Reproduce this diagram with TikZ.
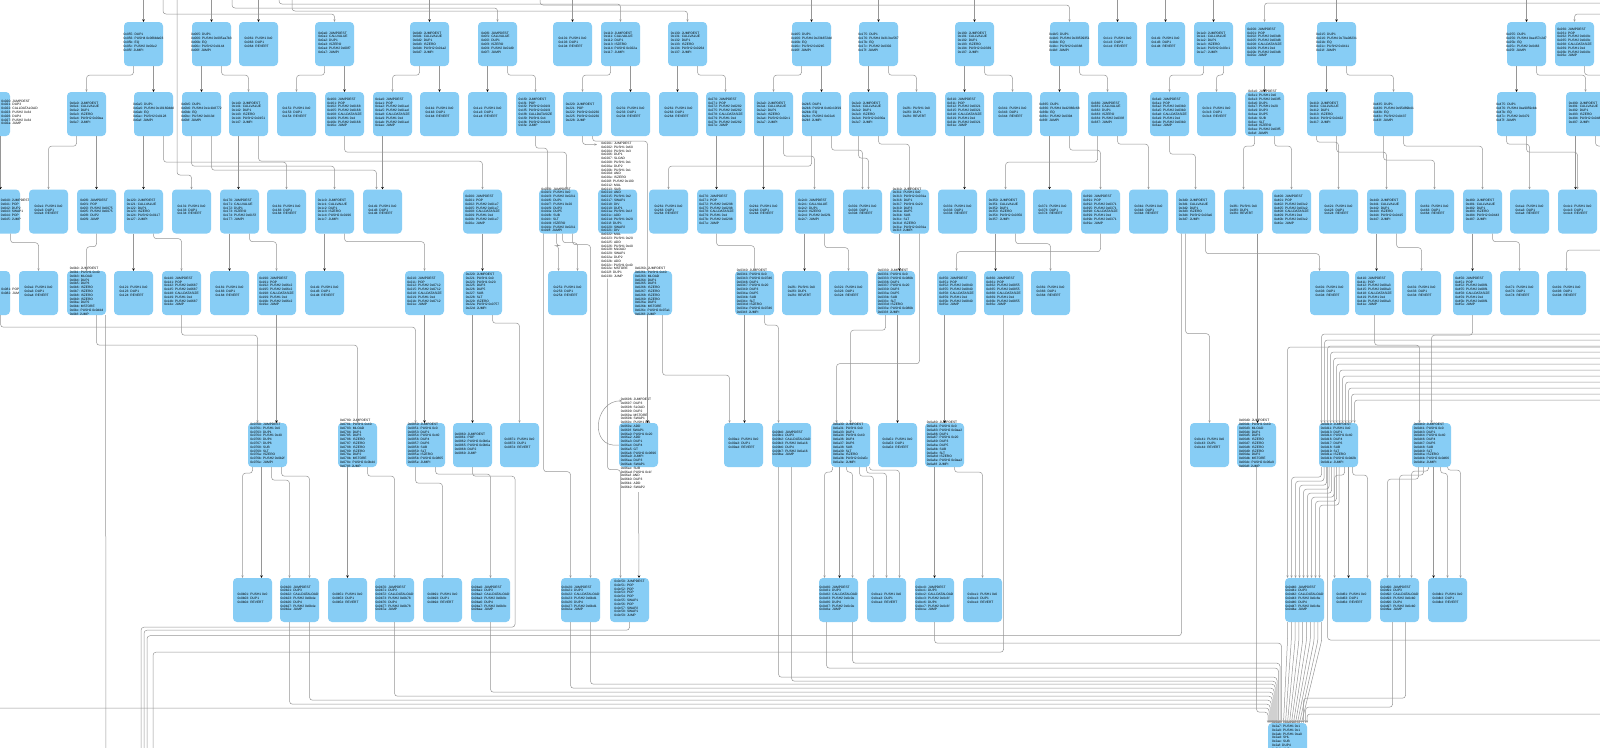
\documentclass[tikz,border=0pt]{standalone}
\usepackage{fontspec}
\setmainfont{Liberation Sans}
\usepackage{xcolor}
\usepackage{tikz}
\usetikzlibrary{arrows.meta}

\definecolor{blockblue}{RGB}{135,205,245}
\definecolor{linegray}{RGB}{150,150,150}

\newcommand{\ops}[1]{\smash{\makebox[0pt]{\begin{tabular}{@{}l@{}}#1\end{tabular}}}}
\newcommand{\opsl}[2]{\smash{\makebox[0pt][l]{\hspace{#1pt}\begin{tabular}{@{}l@{}}#2\end{tabular}}}}
\newcommand{\rv}[1]{\ops{0x#11: PUSH1 0x0\\0x#13: DUP1\\0x#14: REVERT}}
\newcommand{\dsp}[3]{\ops{0x#15: DUP1\\0x#16: PUSH4 0x#2\\0x#1b: EQ\\0x#1c: PUSH2 0x#3\\0x#1f: JUMPI}}
\newcommand{\cvl}[2]{\ops{0x#10: JUMPDEST\\0x#11: CALLVALUE\\0x#12: DUP1\\0x#13: ISZERO\\0x#14: PUSH2 0x#2\\0x#17: JUMPI}}
\newcommand{\cdl}[2]{\ops{0x#10: JUMPDEST\\0x#11: POP\\0x#12: PUSH2 0x#2\\0x#15: PUSH2 0x#2\\0x#18: CALLDATASIZE\\0x#19: PUSH1 0x4\\0x#1b: PUSH2 0x#2\\0x#1e: JUMP}}
\newcommand{\pjp}[2]{\ops{0x#10: JUMPDEST\\0x#11: POP\\0x#12: PUSH2 0x#2\\0x#15: PUSH2 0x#2\\0x#18: JUMP}}
\newcommand{\pdj}[2]{\ops{0x#10: JUMPDEST\\0x#11: POP\\0x#12: PUSH2 0x#2\\0x#15: PUSH2 0x#2\\0x#18: DUP2\\0x#19: JUMP}}
\newcommand{\ldc}[2]{\ops{0x#10: JUMPDEST\\0x#11: DUP3\\0x#12: CALLDATALOAD\\0x#13: PUSH2 0x#2\\0x#16: DUP4\\0x#17: PUSH2 0x#2\\0x#1a: JUMP}}
\newcommand{\chs}[2]{\ops{0x#10: JUMPDEST\\0x#11: PUSH1 0x0\\0x#13: PUSH1 0x20\\0x#15: DUP3\\0x#16: DUP5\\0x#17: SUB\\0x#18: SLT\\0x#19: ISZERO\\0x#1a: PUSH2 0x#2\\0x#1d: JUMPI}}
\newcommand{\chk}[2]{\ops{0x#10: JUMPDEST\\0x#11: PUSH1 0x0\\0x#13: DUP1\\0x#14: PUSH1 0x40\\0x#16: DUP4\\0x#17: DUP6\\0x#18: SUB\\0x#19: SLT\\0x#1a: ISZERO\\0x#1b: PUSH2 0x#2\\0x#1e: JUMPI}}
\newcommand{\chl}[2]{\ops{0x#10: JUMPDEST\\0x#11: PUSH1 0x0\\0x#13: PUSH2 0x#2\\0x#16: DUP1\\0x#17: PUSH1 0x20\\0x#19: DUP3\\0x#1a: DUP5\\0x#1b: SUB\\0x#1c: SLT\\0x#1d: ISZERO\\0x#1e: PUSH2 0x#2\\0x#1f: JUMPI}}
\newcommand{\mlk}[2]{\ops{0x#10: JUMPDEST\\0x#11: PUSH1 0x40\\0x#13: MLOAD\\0x#14: DUP1\\0x#15: DUP3\\0x#16: ISZERO\\0x#17: ISZERO\\0x#18: ISZERO\\0x#19: ISZERO\\0x#1a: DUP2\\0x#1b: MSTORE\\0x#1c: PUSH2 0x#2\\0x#1f: JUMP}}
\newcommand{\rtn}[1]{\ops{0x#10: JUMPDEST\\0x#11: POP\\0x#12: POP\\0x#13: POP\\0x#14: POP\\0x#15: SWAP1\\0x#16: POP\\0x#17: SWAP2\\0x#18: SWAP1\\0x#19: JUMP}}
\newcommand{\lngc}{\ops{0x0201: JUMPDEST\\0x0202: PUSH1 0x60\\0x0204: PUSH1 0x3\\0x0206: DUP1\\0x0207: SLOAD\\0x0208: PUSH1 0x1\\0x020a: DUP2\\0x020b: PUSH1 0x1\\0x020d: AND\\0x020e: ISZERO\\0x020f: PUSH2 0x100\\0x0212: MUL\\0x0213: SUB\\0x0214: AND\\0x0215: PUSH1 0x2\\0x0217: SWAP1\\0x0218: DIV\\0x0219: DUP1\\0x021a: PUSH1 0x1f\\0x021c: ADD\\0x021d: PUSH1 0x20\\0x021f: DUP1\\0x0220: SWAP2\\0x0221: DIV\\0x0222: MUL\\0x0223: PUSH1 0x20\\0x0225: ADD\\0x0226: PUSH1 0x40\\0x0228: MLOAD\\0x0229: SWAP1\\0x022a: DUP2\\0x022b: ADD\\0x022c: PUSH1 0x40\\0x022e: MSTORE\\0x022f: DUP1\\0x0230: JUMP}}
\newcommand{\lpe}{\ops{0x0696: JUMPDEST\\0x0697: DUP3\\0x0698: SLOAD\\0x0699: DUP2\\0x069a: MSTORE\\0x069b: SWAP1\\0x069c: PUSH1 0x1\\0x069e: ADD\\0x069f: SWAP1\\0x06a0: PUSH1 0x20\\0x06a2: ADD\\0x06a3: DUP1\\0x06a4: DUP4\\0x06a5: GT\\0x06a6: PUSH2 0x0696\\0x06a9: JUMPI\\0x06aa: DUP3\\0x06ab: SWAP1\\0x06ac: SUB\\0x06ad: PUSH1 0x1f\\0x06af: AND\\0x06b0: DUP3\\0x06b1: ADD\\0x06b2: SWAP2}}

\begin{document}
\begin{tikzpicture}[
  x=1pt, y=-1pt,
  blk/.style={rectangle, rounded corners=4pt, fill=blockblue, minimum width=39pt, minimum height=44pt, inner sep=0pt, font=\fontsize{3.25}{3.8}\selectfont},
  flow/.style={draw=linegray, line width=0.5pt, rounded corners=3pt, -{Stealth[length=2.4pt,width=2.2pt]}},
  flowd/.style={flow, -{Stealth[length=2.4pt,width=2.6pt,color=black]}}
]
  \path[use as bounding box, fill=white] (0,0) rectangle (1600,747);

  \foreach \n/\x/\t in {1/124/\dsp{05}{06fdde03}{00e2}, 2/192/\dsp{06}{095ea7b3}{0144}, 3/239/\rv{06}, 4/315/\cvl{0a}{00f7}, 5/410/\cvl{0d}{01a2}, 6/478/\cvl{0f}{01d9}, 7/553/\rv{10}, 8/601/\cvl{11}{022a}, 9/668/\cvl{13}{0264}, 10/792/\dsp{16}{23b872dd}{02b5}, 11/859/\dsp{17}{313ce567}{0302}, 12/955/\cvl{19}{0339}, 13/1050/\dsp{1b}{39509351}{0388}, 14/1098/\rv{1c}, 15/1146/\rv{1d}, 16/1194/\cvl{1e}{03c1}, 17/1245/\cdl{20}{03d8}, 18/1317/\dsp{21}{70a08231}{0411}, 19/1507/\dsp{25}{a457c2d7}{0463}, 20/1555/\cdl{26}{049c}}
    \node[blk] (a\n) at (\x+19.5,44) {\t};

  \foreach \n/\x/\t in {1/-29/\opsl{11}{0x020: JUMPDEST\\0x021: DUP3\\0x022: CALLDATALOAD\\0x023: PUSH2 0x34\\0x026: DUP4\\0x027: PUSH2 0x34\\0x02a: JUMP}, 2/67/\cvl{0e}{00ea}, 3/134/\dsp{0a}{18160ddd}{0128}, 4/182/\dsp{0b}{1c1b8772}{013d}, 5/229/\cvl{14}{0151}, 6/277/\rv{15}, 7/325/\cdl{16}{0168}, 8/373/\cdl{1a}{01ad}, 9/420/\rv{1b}, 10/468/\rv{1e}, 11/516/\cdl{1f}{01f4}, 12/563/\pjp{22}{0230}, 13/611/\rv{23}, 14/659/\rv{26}, 15/706/\cdl{27}{0282}, 16/754/\cvl{2a}{02c1}, 17/802/\dsp{2b}{40c10f19}{02e6}, 18/849/\cvl{2e}{030a}, 19/897/\rv{2f}, 20/945/\cdl{31}{0321}, 21/993/\rv{34}, 22/1040/\dsp{36}{42966c68}{0394}, 23/1088/\cvl{38}{039f}, 24/1150/\cdl{3a}{03b0}, 25/1197/\rv{3c}, 26/1245/\chl{3e}{03f5}, 27/1307/\cvl{41}{0422}, 28/1374/\dsp{43}{95d89b41}{0437}, 29/1497/\dsp{47}{a9059cbb}{0479}, 30/1566/\cvl{49}{0486}}
    \node[blk] (b\n) at (\x+19.5,114) {\t};

  \foreach \n/\x/\t in {1/-19/\opsl{0.5}{0x040: JUMPDEST\\0x041: POP\\0x042: DUP2\\0x043: SWAP1\\0x044: POP\\0x045: JUMP}, 2/29/\rv{0e}, 3/77/\pdj{0f}{0075}, 4/124/\cvl{12}{0117}, 5/172/\rv{13}, 6/220/\cvl{17}{015f}, 7/267/\rv{18}, 8/315/\cvl{1c}{0196}, 9/363/\rv{1d}, 10/463/\cdl{20}{01e7}, 11/539/\chl{01f}{0211}, 12/598/\lngc, 13/649/\rv{26}, 14/697/\cdl{27}{0298}, 15/744/\rv{2b}, 16/795/\cvl{2c}{02f1}, 17/843/\rv{30}, 18/890/\chl{31}{031a}, 19/938/\rv{33}, 20/986/\cvl{35}{0350}, 21/1033/\rv{37}, 22/1081/\cdl{39}{0371}, 23/1129/\rv{3b}, 24/1176/\cvl{3d}{03a6}, 25/1224/\rv{3f}, 26/1272/\cdl{40}{03e2}, 27/1319/\rv{42}, 28/1367/\cvl{44}{0415}, 29/1415/\rv{46}, 30/1463/\cvl{48}{0443}, 31/1510/\rv{4a}, 32/1558/\rv{4c}}
    \node[blk] (c\n) at (\x+19.5,211.5) {\t};

  \foreach \n/\x/\t in {1/-29/\opsl{11}{0x081: POP\\0x082: JUMP}, 2/19/\rv{0a}, 3/67/\mlk{0b}{0d4d}, 4/114/\rv{12}, 5/162/\cdl{14}{0687}, 6/210/\rv{18}, 7/257/\cdl{19}{06c2}, 8/305/\rv{1d}, 9/405/\cdl{21}{0712}, 10/463/\chs{22}{0757}, 11/548/\rv{25}, 12/633/\mlk{026}{07a1}, 13/735/\chl{034}{07d6}, 14/782/\rv{2f}, 15/829/\rv{32}, 16/876/\chl{033}{080b}, 17/937/\cdl{35}{0840}, 18/984/\cdl{36}{0855}, 19/1031/\rv{38}, 20/1310/\rv{40}, 21/1355/\cdl{41}{08a3}, 22/1402/\rv{43}, 23/1453/\cdl{45}{08f1}, 24/1500/\rv{47}, 25/1547/\rv{49}}
    \node[blk] (d\n) at (\x+19.5,293) {\t};

  \foreach \n/\x/\t in {1/248/\chk{076}{0b2f}, 2/338/\mlk{078}{0b44}, 3/406/\chk{085}{0865}, 4/453/\pdj{086}{0b6a}, 5/500/\rv{087}, 6/619/\lpe, 7/724/\rv{09a}, 8/772/\ldc{09b}{0a16}, 9/831/\chk{0a3}{0a5c}, 10/878/\rv{0a5}, 11/925/\chl{0a8}{0aa2}, 12/1190/\rv{0c4}, 13/1237/\mlk{06d}{06e9}, 14/1319/\chk{0d1}{0d2b}, 15/1412/\chk{0d4}{0d66}}
    \node[blk] (e\n) at (\x+19.5,445) {\t};

  \foreach \n/\x/\t in {1/233/\rv{0b0}, 2/280/\ldc{0b2}{0b4e}, 3/328/\rv{0b5}, 4/375/\ldc{0b7}{0b78}, 5/423/\rv{0b9}, 6/471/\ldc{0ba}{0b9c}, 7/561/\ldc{0c2}{0bd1}, 8/610/\rtn{0c5}, 9/819/\ldc{0c8}{0c0e}, 10/867/\rv{0ca}, 11/915/\ldc{0cc}{0c3f}, 12/963/\rv{0ce}, 13/1285/\ldc{0d4}{0c8e}, 14/1332/\rv{0d6}, 15/1380/\ldc{0d9}{0cb0}, 16/1428/\rv{0db}}
    \node[blk] (f\n) at (\x+19.5,600) {\t};

  \node[blk] (g) at (1287.5,745) {\ops{0x2a6: JUMPDEST\\0x2a7: PUSH1 0x1\\0x2a9: PUSH1 0x1\\0x2ab: PUSH1 0xa0\\0x2ad: SHL\\0x2ae: SUB\\0x2af: DUP4\\0x2b0: AND\\0x2b1: PUSH2 0x2ef\\0x2b4: JUMPI\\0x2b5: PUSH1 0x40\\0x2b7: MLOAD}};

  \coordinate (tr1) at (1605,3);
  \coordinate (tr2) at (1605,75);
  \coordinate (tr3) at (1605,146);
  \coordinate (tr4) at (1605,250);
  \coordinate (tr5) at (1605,14);
  \coordinate (top177) at (177,-2);
  \coordinate (or1) at (1605,640);
  \coordinate (rb1) at (1605,714);
  \coordinate (rfx) at (1605,347);
  \coordinate (ol1) at (-5,708);
  \coordinate (ob1) at (141,760);
  \coordinate (ob2) at (144,760);
  \coordinate (ob3) at (147,760);
  \coordinate (ob4) at (153,760);
  \coordinate (ob5) at (106,760);

  \foreach \x/\t in {143.5/a1, 211.5/a2, 258.5/a3, 429.5/a5, 572.5/a7, 811.5/a10, 878.5/a11, 974.5/a12, 1117.5/a14, 1165.5/a15, 1213.5/a16, 1336.5/a18, 1526.5/a19} {
    \coordinate (top\t) at (\x,-2);
    \draw[flowd] (top\t) -- (\t);
  }
  \foreach \x/\l/\t in {163/16/a4, 232/10/a6, 279/6/a8, 292/13/a9, 540/7/a13} {
    \coordinate (top\t) at (\x,-2);
    \draw[flow] (top\t) -- ++(0,\l) -| (\t);
  }
  \draw[flow] (tr1) -| (a17);
  \draw[flow] (tr5) -| (a20);
  \draw[flow] (top177) -- ++(0,177) -| (c5);

  \foreach \s/\a/\t/\b in {a1/10/b3/0, a2/-10/b4/0, a4/10/b7/0, a5/10/b9/0, a6/-10/b10/0, a8/10/b13/0, a9/-10/b14/-1, a10/10/b17/0, a11/-10/b18/0, a12/-10/b20/0, a13/-10/b22/0, a17/0/b26/0, a18/-10/b27/0, a19/-10/b29/0, b1/10/c1/0, b2/10/c3/0, b3/-10/c4/0, b5/-10/c6/-1, b8/-10/c9/0, b15/-9/c14/0, b16/-10/c15/0, b20/0/c19/7, b22/-10/c21/-3, b30/-10/c32/-2, c1/-10/d1/0, c4/-10/d4/0, c6/-10/d6/0, c8/-10/d8/0, c10/0/d10/0, c16/-10/d14/3, c18/-10/d16/4, c20/-10/d18/-8, c26/-34/e13/1, c28/-10/d21/2, c30/-10/d23/0, d7/0/e1/9, d9/0/e3/-1, d10/-10/e4/0, d12/-5/e6/9, d13/-10/e7/1, d16/2/e10/0, d17/-12/e11/0, e1/-6/f1/9, e2/-10/f3/0, e9/-11/f9/1, e11/-10/f11/0, e14/10/f14/-3, e15/2/f16/-14}
    \draw[flowd] ([xshift=\a]\s.south) -- ([xshift=\b]\t.north);

  \foreach \s/\a/\d/\t/\b in {a1/-10/9/b2/0, a2/10/9/b5/0, a4/-10/9/b6/0, a5/-10/9/b8/0, a6/10/9/b11/0, a8/-10/9/b12/0, a9/10/9/b15/0, a10/-10/9/b16/0, a11/10/9/b19/0, a12/10/9/b21/0, a13/10/9/b23/0, a16/-10/9/b24/0, a16/10/9/b25/0, a18/10/9/b28/0, a19/10/9/b30/0,
      b2/-10/10/c2/0, b3/10/26/c7/0, b4/-10/30/c8/0, b4/10/34/c9/-6, b5/10/25/c10/0, b7/0/16/c11/8, b11/0/12/c11/-11, b12/10/5/d12/-5, b16/10/20/c16/0, b17/-10/30/c13/0, b17/10/14/c17/0, b18/-10/22/c17/6, b18/10/8/c18/0, b22/10/14/c22/0, b23/-10/26/c20/0, b23/10/8/c23/0, b24/0/18/c24/0, b26/-10/10/c25/0, b26/10/10/c26/0, b27/-10/6/c27/0, b27/10/16/c28/0, b28/-10/24/c29/0, b28/10/10/c30/0, b29/-10/8/c31/0, b29/10/16/c32/0,
      c1/10/9/d2/0, c3/0/13/d3/0, c4/10/5/d5/0, c6/10/8/d7/0, c8/10/8/d9/0, c11/-2/12/d11/-9, c11/4/9/d11/10, c11/-15/238/f7/-10, c11/14/11/f7/10, c14/0/12/d13/0, c16/10/14/d15/0, c18/10/130/e9/-14, c20/10/10/d19/0, c22/0/18/d17/0, c24/-10/100/e12/0, c24/10/20/d20/-10, c28/10/14/d22/0, c30/10/8/d24/0,
      d1/10/12/e3/-10, d3/10/30/e2/0, d5/0/20/e1/-10, d10/10/8/e5/0, d12/10/60/e7/-14, d13/10/10/e8/-13, d16/-10/15/e9/0, d21/0/30/e15/-12, d23/0/20/e15/0,
      e1/-15/6/f1/-10, e1/4/13/f2/-10, e1/14/9/f2/10, e2/10/9/f4/0, e3/-10/16/f5/0, e3/10/7/f6/0, e9/-18/5/f9/-14, e9/-4/5/f9/14, e9/9/9/f10/-13, e9/16/6/f10/0, e9/19/3/f10/13, e11/10/5/f12/0, e15/-13/12/f15/-12, e15/-8/8/f15/0, e15/-3/4/f15/12, e15/9/6/f16/0, e15/16/3/f16/13, e14/6/8/f14/-17, e14/14/8/f14/16,
      f11/0/21/g/-6, f9/14/41/g/-7.5, f9/-12/46/g/-9, e8/-13/210/g/-10.5, e8/0/214/g/-11.5, f7/10/62/g/-12.5, f7/-10/66/g/-13.5, f6/0/70/g/-14.5, f4/0/74/g/-15.5, f2/10/78/g/-16.5, f2/-10/82/g/-17.5, e13/0/245/g/-19.5, f15/-7/85/g/18, f15/6/76/g/16}
    \draw[flow] ([xshift=\a]\s.south) -- ++(0,\d) -| ([xshift=\b]\t.north);

  \draw[flow] ([xshift=10]a20.south) |- (tr2);
  \draw[flow] ([xshift=10]b30.south) |- (tr3);
  \draw[flow] (tr4) -| (d25);
  \draw[flow] (b12.south) |- ([xshift=-1,yshift=67]c12.west);
  \draw[flow] ([xshift=-10,yshift=-45]c12.south) -- ++(0,191) -| ([xshift=-9]f8.north);
  \draw[flow] (e6.west) .. controls +(-30,4) and +(-28,0) .. ([xshift=3,yshift=22]e6.north west);
  \draw[flowd] ([yshift=-25]e6.south) -- ([xshift=9.5]f8.north);

  \foreach \i in {0,...,11} {
    \coordinate (rf\i) at (1605,334+6*\i);
    \draw[flow] (rf\i) -| ([xshift=-17+3*\i]e14.north);
  }
  \draw[flow] (rfx) -| ([xshift=-17]f13.north);
  \foreach \i in {0,...,7}
    \draw[flow] ([xshift=-17+2.5*\i]e14.south) -- ++(0,10+4*\i) -| ([xshift=-13+4*\i]f13.north);
  \foreach \i in {0,...,9}
    \draw[flow] ([xshift=-17+3.8*\i]f13.south) -- ++(0,18) -- ([xshift=-4+2*\i]g.north);
  \draw[flow] ([xshift=-11]e14.south) |- (or1);
  \draw[flow] (rb1) -| ([xshift=19.5]g.north);
  \draw[flow] (ol1) -| ([xshift=-18.5]g.north);

  \draw[flow] (e4.south) -- ++(0,9) -- ++(42.5,0) -- ++(0,151) -| (ob1);
  \draw[flow] (f8.south) -- ++(0,8) -| (ob2);
  \draw[flow] ([xshift=-14]c24.south) -- ++(0,402) -| (ob3);
  \draw[flow] (d18.south) -- ++(0,337) -| (ob4);
  \draw[flow] ([xshift=19]d3.south) -- (ob5);
\end{tikzpicture}
\end{document}
